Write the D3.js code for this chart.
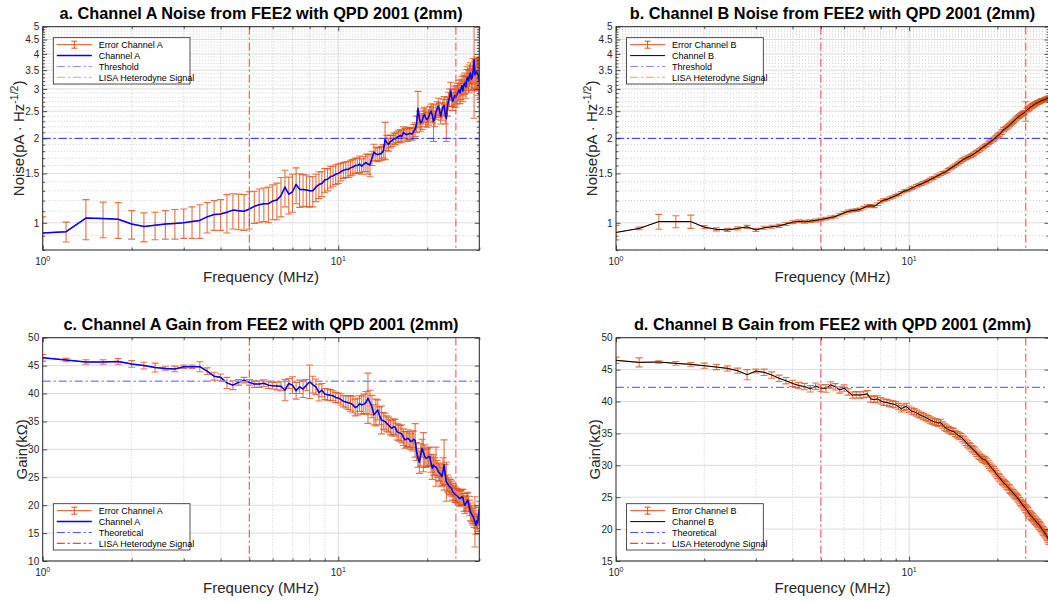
<!DOCTYPE html>
<html><head><meta charset="utf-8">
<script src="https://cdn.jsdelivr.net/npm/d3@7"></script>
<style>body{margin:0;background:#fff}svg{display:block}</style>
</head><body>
<svg id="fig" width="1048" height="603"></svg>
<script>
// ---- data ----
const freqs = [
1,1.2,1.4,1.6,1.8, 2,2.2,2.4,2.6,2.8, 3,3.2,3.4,3.6,3.8, 4,4.2,4.4,4.6,4.8,
5,5.2,5.4,5.6,5.8, 6,6.2,6.4,6.6,6.8, 7,7.2,7.4,7.6,7.8, 8,8.2,8.4,8.6,8.8,
9,9.2,9.4,9.6,9.8, 10,10.2,10.4,10.6,10.8, 11,11.2,11.4,11.6,11.8, 12,12.2,12.4,12.6,12.8,
13,13.2,13.4,13.6,13.8, 14,14.2,14.4,14.6,14.8, 15,15.2,15.4,15.6,15.8, 16,16.2,16.4,16.6,16.8,
17,17.2,17.4,17.6,17.8, 18,18.2,18.4,18.6,18.8, 19,19.2,19.4,19.6,19.8, 20,20.2,20.4,20.6,20.8,
21,21.2,21.4,21.6,21.8, 22,22.2,22.4,22.6,22.8, 23,23.2,23.4,23.6,23.8, 24,24.2,24.4,24.6,24.8,
25,25.2,25.4,25.6,25.8, 26,26.2,26.4,26.6,26.8, 27,27.2,27.4,27.6,27.8, 28,28.2,28.4,28.6,28.8,
29,29.2,29.4,29.6,29.8, 30];

const noiseA = [
0.92,0.93,1.04,1.035,1.03, 0.99,0.97,0.98,0.99,0.995, 1.0,1.01,1.02,1.05,1.07, 1.075,1.09,1.11,1.105,1.10,
1.12,1.145,1.16,1.17,1.17, 1.195,1.205,1.25,1.34,1.265, 1.29,1.37,1.315,1.315,1.31, 1.30,1.30,1.34,1.37,1.38,
1.42,1.43,1.46,1.47,1.49, 1.50,1.52,1.54,1.55,1.55, 1.57,1.58,1.60,1.60,1.62, 1.59,1.62,1.64,1.62,1.61,
1.70,1.785,1.76,1.75,1.76, 1.77,1.80,1.98,1.93,1.90, 1.95,1.96,2.00,1.99,2.02, 2.03,2.05,2.03,2.10,2.08,
2.06,2.07,2.08,2.08,2.07, 2.12,2.15,2.25,2.56,2.35, 2.27,2.30,2.40,2.43,2.35, 2.33,2.38,2.45,2.50,2.42,
2.30,2.35,2.48,2.55,2.60, 2.52,2.40,2.50,2.58,2.62, 2.45,2.35,2.60,2.72,2.80, 2.95,2.80,2.71,2.78,2.85,
2.80,2.87,2.92,2.98,2.90, 3.00,3.08,2.95,3.11,3.15, 3.05,3.24,3.30,3.20,3.35, 3.42,3.25,3.30,3.50,3.81,
3.37,3.42,3.45,3.40,3.35, 3.20];
const noiseAErr = [
0.13,0.076,0.17,0.15,0.15, 0.115,0.115,0.11,0.115,0.12, 0.12,0.13,0.14,0.13,0.13, 0.135,0.17,0.16,0.16,0.16,
0.17,0.15,0.16,0.16,0.17, 0.17,0.18,0.2,0.2,0.19, 0.2,0.2,0.18,0.17,0.17, 0.16,0.16,0.15,0.15,0.14,
0.14,0.13,0.13,0.12,0.12, 0.12,0.11,0.1,0.1,0.1, 0.1,0.1,0.1,0.1,0.11, 0.1,0.1,0.12,0.13,0.15,
0.1,0.12,0.1,0.1,0.1, 0.1,0.1,0.3,0.12,0.1, 0.1,0.09,0.09,0.09,0.09, 0.1,0.1,0.1,0.1,0.09,
0.1,0.12,0.1,0.1,0.1, 0.12,0.12,0.15,0.38,0.15, 0.15,0.15,0.15,0.15,0.15, 0.14,0.15,0.15,0.15,0.15,
0.35,0.15,0.15,0.15,0.18, 0.15,0.15,0.18,0.18,0.2, 0.2,0.4,0.2,0.2,0.2, 0.22,0.2,0.2,0.2,0.22,
0.22,0.22,0.22,0.24,0.24, 0.25,0.25,0.25,0.25,0.27, 0.27,0.28,0.3,0.3,0.3, 0.3,0.3,0.32,0.35,1.45,
0.4,0.4,0.45,0.45,0.5, 0.45];

const noiseB = [
0.924,0.955,1.01,1.01,1.01, 0.965,0.948,0.943,0.955,0.967, 0.943,0.96,0.968,0.975,0.99, 1.005,1.012,1.008,1.014,1.02,
1.028,1.035,1.045,1.052,1.07, 1.085,1.098,1.105,1.11,1.116, 1.132,1.147,1.15,1.145,1.165, 1.19,1.205,1.21,1.225,1.237,
1.25,1.262,1.28,1.297,1.302, 1.315,1.33,1.338,1.355,1.365, 1.375,1.388,1.40,1.41,1.425, 1.44,1.448,1.465,1.475,1.49,
1.505,1.51,1.525,1.545,1.56, 1.575,1.59,1.605,1.62,1.64, 1.655,1.675,1.685,1.70,1.71, 1.72,1.73,1.745,1.755,1.775,
1.79,1.80,1.82,1.835,1.855, 1.87,1.885,1.895,1.92,1.935, 1.95,1.965,1.98,2.00,2.02, 2.04,2.055,2.07,2.095,2.12,
2.15,2.16,2.175,2.19,2.21, 2.23,2.25,2.27,2.29,2.31, 2.33,2.35,2.37,2.385,2.40, 2.42,2.435,2.45,2.46,2.48,
2.50,2.52,2.54,2.55,2.57, 2.59,2.60,2.62,2.63,2.645, 2.66,2.67,2.68,2.69,2.70, 2.71,2.72,2.73,2.735,2.74,
2.75,2.76,2.76,2.77,2.78, 2.80];
const noiseBErr = [
0.055,0.01,0.062,0.05,0.055, 0.012,0.012,0.012,0.012,0.012, 0.012,0.012,0.012,0.012,0.012, 0.012,0.012,0.012,0.012,0.012,
0.012,0.012,0.012,0.012,0.012, 0.012,0.012,0.012,0.012,0.012, 0.012,0.012,0.012,0.012,0.012, 0.012,0.012,0.012,0.012,0.012,
0.012,0.012,0.012,0.012,0.012, 0.015,0.015,0.015,0.015,0.015, 0.015,0.015,0.015,0.015,0.015, 0.015,0.015,0.015,0.015,0.015,
0.015,0.015,0.015,0.015,0.015, 0.015,0.015,0.015,0.015,0.015, 0.02,0.02,0.02,0.02,0.02, 0.02,0.02,0.02,0.02,0.02,
0.02,0.02,0.02,0.02,0.02, 0.02,0.02,0.02,0.02,0.02, 0.025,0.025,0.025,0.025,0.025, 0.03,0.03,0.03,0.03,0.03,
0.03,0.03,0.03,0.03,0.03, 0.03,0.03,0.03,0.03,0.03, 0.03,0.03,0.03,0.03,0.03, 0.035,0.035,0.035,0.035,0.035,
0.2,0.04,0.04,0.04,0.04, 0.04,0.04,0.04,0.04,0.04, 0.04,0.04,0.04,0.04,0.04, 0.04,0.04,0.04,0.04,0.04,
0.04,0.04,0.04,0.04,0.04, 0.04];

const gainA = [
46.4,46.0,45.65,45.65,45.75, 45.3,45.0,44.65,44.5,44.4, 44.8,44.8,44.8,44.0,43.1, 42.9,41.9,41.5,42.0,42.4,
42.0,41.7,41.7,41.85,41.5, 41.4,41.35,41.3,40.6,41.8, 41.5,40.5,41.2,40.8,41.5, 42.1,41.6,41.2,40.15,40.6,
39.9,39.8,39.7,39.6,39.3, 39.2,38.95,38.6,38.5,38.35, 38.25,38.0,37.5,37.66,38.2, 37.96,38.1,38.37,39.15,38.4,
37.66,36.2,36.6,37.06,36.0, 35.27,35.1,34.97,34.6,34.37, 34.0,33.78,34.08,33.9,33.18, 33.0,32.9,32.76,32.2,31.69,
31.8,32.0,31.7,31.39,31.5, 31.8,31.6,29.6,28.5,27.7, 29.0,30.2,29.5,28.8,28.4, 28.5,28.7,28.7,27.5,26.62,
27.2,26.9,26.9,26.5,26.0, 25.8,25.5,25.1,26.0,27.2, 25.5,24.2,23.9,23.6,23.3, 23.2,22.9,22.4,22.2,22.0,
21.8,21.7,21.5,21.3,21.2, 21.3,21.5,21.4,20.5,20.0, 20.3,20.6,20.9,20.2,19.5, 18.8,18.5,18.2,17.9,17.5,
17.0,16.4,17.2,16.8,18.0, 19.3];
const gainAErr = [
0.6,0.3,0.4,0.4,0.5, 0.6,0.6,0.8,0.3,0.5, 0.3,0.3,0.9,0.6,0.7, 0.6,1.0,0.8,0.5,0.5,
0.5,0.6,0.6,0.6,0.6, 0.6,0.7,0.8,1.9,0.9, 1.5,1.5,1.2,1.5,1.0, 3.0,1.5,1.4,1.5,1.2,
1.0,1.0,1.0,0.9,0.9, 0.9,1.0,1.0,1.1,1.2, 1.4,1.5,1.5,1.5,1.4, 1.6,1.8,2.0,4.5,2.2,
2.0,1.8,2.4,1.8,1.6, 2.5,1.5,1.5,1.4,1.4, 1.4,1.4,1.4,1.5,1.5, 1.5,1.4,1.6,1.5,1.5,
1.4,1.5,1.4,1.4,1.8, 1.5,3.0,1.6,1.7,2.0, 2.0,1.6,3.5,2.0,1.6, 1.6,1.7,1.6,1.6,2.0,
1.8,1.6,3.5,1.5,1.6, 1.6,1.7,1.7,2.5,4.5, 1.8,3.5,1.5,1.4,1.4, 1.4,1.4,1.5,1.4,1.4,
1.3,1.3,1.3,1.4,1.4, 1.3,1.4,1.4,1.6,1.5, 1.4,1.5,1.4,1.4,1.4, 1.6,1.5,1.5,1.5,1.5,
4.5,1.6,1.4,1.5,1.6, 1.4];

const gainB = [
46.45,46.13,46.19,45.98,45.82, 45.61,45.4,45.19,44.83,44.2, 44.78,44.57,44.15,43.63,43.26, 42.84,42.5,42.34,42.0,42.4,
42.1,42.05,42.6,42.3,41.82, 42.1,41.5,41.0,41.05,41.0, 41.1,41.2,40.4,40.3,40.4, 40.1,39.9,39.84,39.7,39.6,
39.48,39.2,38.85,39.1,39.22, 38.8,38.5,38.4,38.2,38.0, 37.8,37.65,37.5,37.3,37.1, 36.95,36.8,36.75,36.6,36.71,
36.3,36.0,35.82,35.6,35.45, 35.35,35.3,35.0,34.8,34.6, 34.5,34.2,33.95,33.6,33.35, 33.1,32.9,32.6,32.43,32.2,
31.9,31.6,31.4,31.2,31.0, 30.9,30.8,30.6,30.3,30.0, 29.7,29.5,29.29,29.0,28.7, 28.45,28.2,28.0,27.7,27.5,
27.3,27.1,26.94,26.7,26.5, 26.3,26.1,25.9,25.7,25.5, 25.3,25.1,24.9,24.7,24.45, 24.2,24.0,23.8,23.6,23.4,
23.2,23.0,22.8,22.55,22.3, 22.1,21.95,21.8,21.6,21.45, 21.3,21.1,20.95,20.8,20.6, 20.42,20.2,20.0,19.8,19.6,
19.4,19.2,19.0,18.8,18.5, 18.2];
const gainBErr = [
0.5,0.7,0.2,0.3,0.3, 0.4,0.4,0.4,0.4,0.8, 0.3,0.5,0.5,0.5,0.5, 0.5,0.5,0.5,0.5,0.5,
0.5,0.6,0.5,0.5,0.5, 0.5,0.5,0.5,0.5,0.5, 0.5,0.5,0.5,0.5,0.5, 0.5,0.5,0.5,0.5,0.5,
0.5,0.5,0.5,0.5,0.5, 0.5,0.5,0.5,0.5,0.5, 0.5,0.5,0.5,0.5,0.5, 0.5,0.5,0.5,0.5,0.5,
0.5,0.5,0.5,0.5,0.5, 0.5,0.5,0.5,0.5,0.5, 0.5,0.5,0.5,0.5,0.5, 0.5,0.5,0.5,0.5,0.5,
0.5,0.5,0.5,0.5,0.5, 0.5,0.5,0.5,0.5,0.5, 0.5,0.5,0.5,0.5,0.5, 0.5,0.5,0.5,0.5,0.5,
0.5,0.5,0.5,0.5,0.5, 0.6,0.5,0.5,0.5,0.5, 0.5,0.5,0.5,0.5,0.5, 0.5,0.5,0.5,0.5,0.5,
0.6,0.6,0.6,0.6,0.6, 0.6,0.6,0.6,0.6,0.6, 0.6,0.6,0.6,0.6,0.6, 0.6,0.6,0.6,0.6,0.6,
0.6,0.6,0.6,0.6,0.6, 0.6];

const xDomain = [1, 30];
const xMajorTicks = [1, 10];
const xMinorTicks = [2,3,4,5,6,7,8,9,20,30];
const noiseDomain = [0.8, 5];
const noiseTicks = [1,1.5,2,2.5,3,3.5,4,4.5,5];
const noiseMinor = [0.8,0.9,1.1,1.2,1.3,1.4,1.6,1.7,1.8,1.9,2.1,2.2,2.3,2.4,2.6,2.7,2.8,2.9,3.1,3.2,3.3,3.4,3.6,3.7,3.8,3.9,4.1,4.2,4.3,4.4,4.6,4.7,4.8,4.9];
const gainDomainC = [10, 50];
const gainTicksC = [10,15,20,25,30,35,40,45,50];
const gainDomainD = [15, 50];
const gainTicksD = [15,20,25,30,35,40,45,50];
const noiseThreshold = 2;
const gainTheoretical = 42.2;
const lisaFreqs = [5, 25];

const titles = ["a. Channel A Noise from FEE2 with QPD 2001 (2mm)",
                "b. Channel B Noise from FEE2 with QPD 2001 (2mm)",
                "c. Channel A Gain from FEE2 with QPD 2001 (2mm)",
                "d. Channel B Gain from FEE2 with QPD 2001 (2mm)"];

// ---- drawing ----
const FONT = "'Liberation Sans', Arial, Helvetica, sans-serif";
const AX = "#262626";
const ORANGE = "#D95319";
const svg = d3.select("#fig");

const panels = [
  {t:titles[0], L:42.7, R:479.3, T:26.7, B:250, kind:"noise", y:noiseA, e:noiseAErr, lc:"#0000ff", lw:1.5,
   leg:["Error Channel A","Channel A","Threshold","LISA Heterodyne Signal"], legTop:true,
   hColor:"#2a2aff", hLegColor:"#8c8cff", vLegColor:"#ffaaaa"},
  {t:titles[1], L:616, R:1049, T:26.7, B:250, kind:"noise", y:noiseB, e:noiseBErr, lc:"#000000", lw:1,
   leg:["Error Channel B","Channel B","Threshold","LISA Heterodyne Signal"], legTop:true,
   hColor:"#2a2aff", hLegColor:"#8c8cff", vLegColor:"#ffaaaa"},
  {t:titles[2], L:42.7, R:479.3, T:337.7, B:561, kind:"gain", dom:gainDomainC, ticks:gainTicksC, y:gainA, e:gainAErr, lc:"#0000ff", lw:1.5,
   leg:["Error Channel A","Channel A","Theoretical","LISA Heterodyne Signal"], legTop:false,
   hColor:"#8c8cff", hLegColor:"#5050ff", vLegColor:"#ee4444"},
  {t:titles[3], L:616, R:1049, T:337.7, B:561, kind:"gain", dom:gainDomainD, ticks:gainTicksD, y:gainB, e:gainBErr, lc:"#000000", lw:1,
   leg:["Error Channel B","Channel B","Theoretical","LISA Heterodyne Signal"], legTop:false,
   hColor:"#6e6eff", hLegColor:"#5050ff", vLegColor:"#ee4444"}
];

panels.forEach((p, pi) => {
  const g = svg.append("g");
  const x = d3.scaleLog().domain(xDomain).range([p.L, p.R]);
  const y = p.kind === "noise"
    ? d3.scaleLog().domain(noiseDomain).range([p.B, p.T])
    : d3.scaleLinear().domain(p.dom).range([p.B, p.T]);
  const yMajor = p.kind === "noise" ? noiseTicks : p.ticks;
  const yMinor = p.kind === "noise" ? noiseMinor : [];

  const clipId = "clip" + pi;
  svg.append("clipPath").attr("id", clipId).append("rect")
    .attr("x", p.L).attr("y", p.T).attr("width", p.R - p.L).attr("height", p.B - p.T);

  // grids
  const grid = g.append("g");
  grid.selectAll(".xmin").data(xMinorTicks).join("line")
    .attr("x1", d => x(d)).attr("x2", d => x(d)).attr("y1", p.T).attr("y2", p.B)
    .attr("stroke", "#b8b8b8").attr("stroke-width", 0.7).attr("stroke-dasharray", "1,2");
  grid.selectAll(".ymin").data(yMinor).join("line")
    .attr("y1", d => y(d)).attr("y2", d => y(d)).attr("x1", p.L).attr("x2", p.R)
    .attr("stroke", "#b8b8b8").attr("stroke-width", 0.7).attr("stroke-dasharray", "1,2");
  grid.selectAll(".xmaj").data([10]).join("line")
    .attr("x1", d => x(d)).attr("x2", d => x(d)).attr("y1", p.T).attr("y2", p.B)
    .attr("stroke", "#dcdcdc").attr("stroke-width", 1);
  grid.selectAll(".ymaj").data(yMajor).join("line")
    .attr("y1", d => y(d)).attr("y2", d => y(d)).attr("x1", p.L).attr("x2", p.R)
    .attr("stroke", "#dcdcdc").attr("stroke-width", 1);

  const plot = g.append("g").attr("clip-path", `url(#${clipId})`);
  const pts = freqs.map((f, i) => ({f, v:p.y[i], e:p.e[i]}));

  // error bars
  const eb = plot.append("g").attr("stroke", ORANGE).attr("stroke-opacity", 0.8).attr("stroke-width", 1.1);
  eb.append("path").datum(pts).attr("fill", "none")
    .attr("d", d3.line().x(d => x(d.f)).y(d => y(d.v)));
  const cap = 3.5;
  eb.selectAll(".bar").data(pts).join("path")
    .attr("fill", "none")
    .attr("d", d => {
      const xx = x(d.f), lo = y(Math.max(d.v - d.e, 0.05)), hi = y(d.v + d.e);
      return `M${xx},${lo}V${hi}M${xx-cap},${lo}H${xx+cap}M${xx-cap},${hi}H${xx+cap}`;
    });

  // main line
  plot.append("path").datum(pts).attr("fill", "none")
    .attr("stroke", p.lc).attr("stroke-width", p.lw).attr("stroke-linejoin", "round")
    .attr("d", d3.line().x(d => x(d.f)).y(d => y(d.v)));

  // threshold / theoretical
  const hv = p.kind === "noise" ? noiseThreshold : gainTheoretical;
  plot.append("line").attr("x1", p.L).attr("x2", p.R).attr("y1", y(hv)).attr("y2", y(hv))
    .attr("stroke", p.hColor).attr("stroke-width", p.kind === "noise" ? 1 : 1.3)
    .attr("stroke-dasharray", "8,3,2,3");
  // LISA lines
  plot.selectAll(".lisa").data(lisaFreqs).join("line")
    .attr("x1", d => x(d)).attr("x2", d => x(d)).attr("y1", p.T).attr("y2", p.B)
    .attr("stroke", "#ee3535").attr("stroke-opacity", 0.9).attr("stroke-width", 1)
    .attr("stroke-dasharray", "8,3,2,3");

  // axes box
  g.append("rect").attr("x", p.L).attr("y", p.T).attr("width", p.R - p.L).attr("height", p.B - p.T)
    .attr("fill", "none").attr("stroke", AX).attr("stroke-width", 1);

  const tickLen = 4.5, minorLen = 2.5;
  const axB = g.append("g").attr("transform", `translate(0,${p.B})`)
    .call(d3.axisBottom(x).tickValues(xMajorTicks).tickSize(-tickLen).tickFormat(""));
  const axBm = g.append("g").attr("transform", `translate(0,${p.B})`)
    .call(d3.axisBottom(x).tickValues(xMinorTicks).tickSize(-minorLen).tickFormat(""));
  const axT = g.append("g").attr("transform", `translate(0,${p.T})`)
    .call(d3.axisTop(x).tickValues(xMajorTicks).tickSize(-tickLen).tickFormat(""));
  const axTm = g.append("g").attr("transform", `translate(0,${p.T})`)
    .call(d3.axisTop(x).tickValues(xMinorTicks).tickSize(-minorLen).tickFormat(""));
  const axL = g.append("g").attr("transform", `translate(${p.L},0)`)
    .call(d3.axisLeft(y).tickValues(yMajor).tickSize(-tickLen).tickPadding(4)
      .tickFormat(d => String(d)));
  const axLm = g.append("g").attr("transform", `translate(${p.L},0)`)
    .call(d3.axisLeft(y).tickValues(yMinor).tickSize(-minorLen).tickFormat(""));
  const axR = g.append("g").attr("transform", `translate(${p.R},0)`)
    .call(d3.axisRight(y).tickValues(yMajor).tickSize(-tickLen).tickFormat(""));
  const axRm = g.append("g").attr("transform", `translate(${p.R},0)`)
    .call(d3.axisRight(y).tickValues(yMinor).tickSize(-minorLen).tickFormat(""));
  [axB, axBm, axT, axTm, axL, axLm, axR, axRm].forEach(a => {
    a.select(".domain").remove();
    a.selectAll("line").attr("stroke", AX).attr("stroke-width", 0.8);
  });
  axL.selectAll("text").attr("font-family", FONT).attr("font-size", 10).attr("fill", AX)
    .attr("x", -3.5);

  // x tick labels 10^n
  const xl = g.append("g").attr("font-family", FONT).attr("fill", AX);
  xMajorTicks.forEach(v => {
    const t = xl.append("text").attr("x", x(v)).attr("y", p.B + 14.5).attr("text-anchor", "middle")
      .attr("font-size", 10);
    t.append("tspan").text("10");
    t.append("tspan").attr("font-size", 7).attr("dy", -4).text(String(Math.round(Math.log10(v))));
  });

  const cx = (p.L + p.R) / 2;
  // title
  g.append("text").attr("x", cx).attr("y", p.T - 7.5).attr("text-anchor", "middle")
    .attr("font-family", FONT).attr("font-weight", "bold").attr("font-size", 16.3).attr("fill", "#000")
    .text(p.t);
  // x label
  g.append("text").attr("x", cx).attr("y", p.B + 32).attr("text-anchor", "middle")
    .attr("font-family", FONT).attr("font-size", 15).attr("fill", AX).text("Frequency (MHz)");
  // y label
  const cy = (p.T + p.B) / 2;
  const yl = g.append("text").attr("transform", `translate(${p.L - (p.kind === "noise" ? 19 : 16)},${cy}) rotate(-90)`)
    .attr("text-anchor", "middle").attr("font-family", FONT).attr("font-size", 15).attr("fill", AX);
  if (p.kind === "noise") {
    yl.append("tspan").text("Noise(pA \u00B7 Hz");
    yl.append("tspan").attr("font-size", 10.5).attr("dy", -6).text("-1/2");
    yl.append("tspan").attr("dy", 6).text(")");
  } else {
    yl.text("Gain(k\u03A9)");
  }

  // legend
  const lx = p.L + 10.6, ly = p.legTop ? p.T + 11 : p.B - 57.3;
  const lw = 136.7, lh = 46.3;
  const lg = g.append("g");
  lg.append("rect").attr("x", lx).attr("y", ly).attr("width", lw).attr("height", lh)
    .attr("fill", "#fff").attr("stroke", AX).attr("stroke-width", 0.8);
  const rowY = i => ly + 7 + i * 10.9;
  const s0 = lx + 3.5, s1 = lx + 38.5, tx = lx + 45.4;
  lg.append("line").attr("x1", s0).attr("x2", s1).attr("y1", rowY(0)).attr("y2", rowY(0))
    .attr("stroke", ORANGE).attr("stroke-width", 1);
  const mx = (s0 + s1) / 2;
  lg.append("path").attr("d", `M${mx},${rowY(0)-3.5}V${rowY(0)+3.5}M${mx-3},${rowY(0)-3.5}H${mx+3}M${mx-3},${rowY(0)+3.5}H${mx+3}`)
    .attr("stroke", ORANGE).attr("stroke-width", 1).attr("fill", "none");
  lg.append("line").attr("x1", s0).attr("x2", s1).attr("y1", rowY(1)).attr("y2", rowY(1))
    .attr("stroke", p.lc).attr("stroke-width", p.lw);
  lg.append("line").attr("x1", s0).attr("x2", s1).attr("y1", rowY(2)).attr("y2", rowY(2))
    .attr("stroke", p.hLegColor).attr("stroke-width", 1.2).attr("stroke-dasharray", "8,3,2,3");
  lg.append("line").attr("x1", s0).attr("x2", s1).attr("y1", rowY(3)).attr("y2", rowY(3))
    .attr("stroke", p.vLegColor).attr("stroke-width", 1.2).attr("stroke-dasharray", "8,3,2,3");
  p.leg.forEach((txt, i) => {
    lg.append("text").attr("x", tx).attr("y", rowY(i) + 3.2).attr("font-family", FONT)
      .attr("font-size", 9).attr("fill", "#000").text(txt);
  });
});
</script>
</body></html>
